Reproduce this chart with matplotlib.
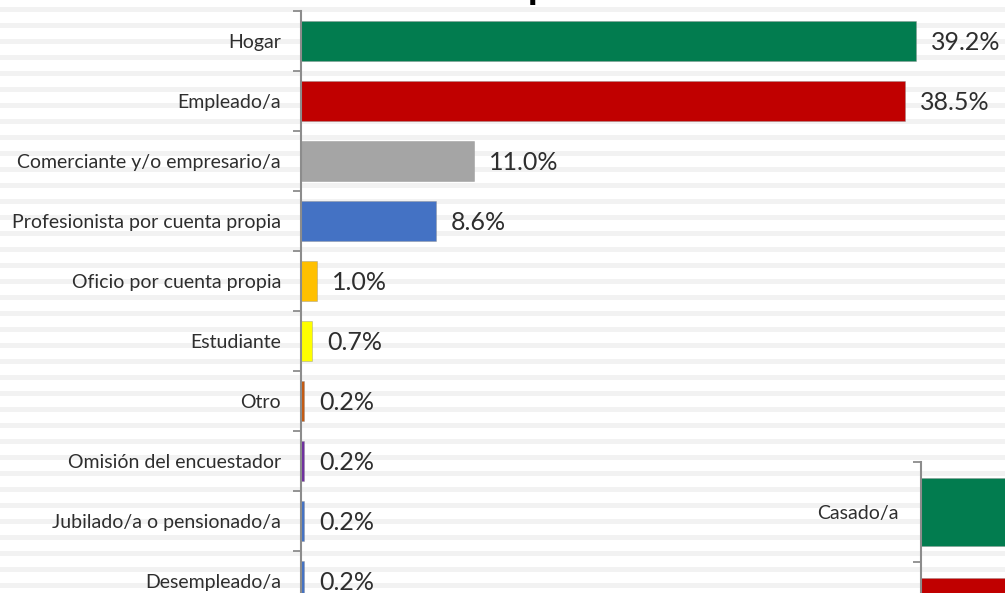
import matplotlib
matplotlib.use("Agg")
import matplotlib.pyplot as plt

# Occupation breakdown (percent)
occupations = [
    "Hogar",
    "Empleado/a",
    "Comerciante y/o empresario/a",
    "Profesionista por cuenta propia",
    "Oficio por cuenta propia",
    "Estudiante",
    "Otro",
    "Omisión del encuestador",
    "Jubilado/a o pensionado/a",
    "Desempleado/a",
]
occupation_pct = [39.2, 38.5, 11.0, 8.6, 1.0, 0.7, 0.2, 0.2, 0.2, 0.2]
occupation_colors = [
    "#027C4F", "#C00000", "#A5A5A5", "#4472C4", "#FFC000",
    "#FFFF00", "#C55A11", "#7030A0", "#4472C4", "#4472C4",
]

# Marital status panel (starts at the lower right)
marital = ["Casado/a", "Soltero/a"]
marital_pct = [52.0, 30.0]
marital_colors = ["#027C4F", "#C00000"]

W, H = 1005, 593
TEXT = "#2E2E2E"
AXIS = "#8C8C8C"
FONT = "Lato"

fig = plt.figure(figsize=(W / 100, H / 100), dpi=100)
fig.patch.set_facecolor("white")


def px_rect(x0, top, w, h):
    return [x0 / W, 1 - (top + h) / H, w / W, h / H]


# striped page background
bg = fig.add_axes([0, 0, 1, 1], zorder=0)
bg.set_xlim(0, W)
bg.set_ylim(H, 0)
bg.axis("off")
for y in range(7, H, 16):
    bg.axhspan(y, y + 5, color="#F2F2F2", lw=0)

# heading (runs above the visible area)
fig.text(453 / W, 595 / H, "Ocupación", ha="left", va="baseline",
         fontsize=29, fontweight="bold", family=FONT, color="black")


def bar_panel(rect, cats, vals, cols, xmax, bar_h, pad_px, labels=True):
    ax = fig.add_axes(rect, zorder=1)
    ax.patch.set_alpha(0)
    n = len(cats)
    pos = list(range(n))
    ax.barh(pos, vals, height=bar_h, color=cols,
            edgecolor=(0.55, 0.55, 0.55, 0.45), linewidth=0.6)
    ax.set_xlim(0, xmax)
    ax.set_ylim(n - 0.5, -0.5)
    for s in ("top", "right", "bottom"):
        ax.spines[s].set_visible(False)
    ax.spines["left"].set_color(AXIS)
    ax.spines["left"].set_linewidth(1.5)
    ax.set_xticks([])
    ax.set_yticks([i - 0.5 for i in range(n + 1)])
    ax.set_yticklabels([])
    ax.tick_params(axis="y", which="major", length=5.8, width=1.3,
                   color=AXIS, direction="out")
    ax.set_yticks(pos, minor=True)
    ax.set_yticklabels(cats, minor=True, fontsize=14, family=FONT,
                       color=TEXT)
    ax.tick_params(axis="y", which="minor", length=0, pad=pad_px * 0.72)
    if labels:
        for i, v in enumerate(vals):
            ax.annotate(f"{v:.1f}%", xy=(v, i), xytext=(10.8, -1.2),
                        textcoords="offset points", ha="left", va="center",
                        fontsize=18, family=FONT, color=TEXT)
    return ax


bar_panel(px_rect(301, 11, 704, 600), occupations, occupation_pct,
          occupation_colors, 704 / 15.69, 2 / 3, 20)

bar_panel(px_rect(921, 462, 700, 200), marital, marital_pct,
          marital_colors, 60, 0.687, 22, labels=False)

fig.savefig("out.png", dpi=100)
